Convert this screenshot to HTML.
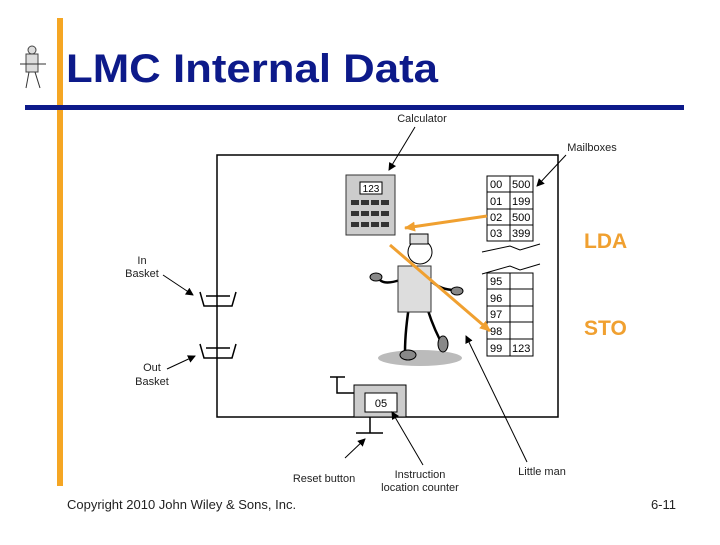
<!DOCTYPE html>
<html><head><style>
body{margin:0;width:720px;height:540px;background:#fff;overflow:hidden;font-family:"Liberation Sans",sans-serif}
</style></head><body>
<svg width="720" height="540" xmlns="http://www.w3.org/2000/svg" font-family="Liberation Sans, sans-serif">
<defs>
<marker id="a" markerWidth="8" markerHeight="8" refX="7" refY="4" orient="auto" markerUnits="userSpaceOnUse"><path d="M0,0 L8,4 L0,8 Z" fill="#000"/></marker>
<marker id="o" markerWidth="12" markerHeight="12" refX="10" refY="6" orient="auto" markerUnits="userSpaceOnUse"><path d="M0,1 L11,6 L0,11 Z" fill="#f0a030"/></marker>
</defs>
<rect x="57" y="18" width="6" height="468" fill="#f5a623"/>
<rect x="25" y="105" width="659" height="5" fill="#0d1a8a"/>
<text x="66" y="82" font-size="40" font-weight="bold" fill="#0d1a8a" textLength="372" lengthAdjust="spacingAndGlyphs">LMC Internal Data</text>
<!-- mini man -->
<g stroke="#444" fill="#ddd"><rect x="26" y="54" width="12" height="18"/><circle cx="32" cy="50" r="4"/></g>
<line x1="20" y1="64" x2="46" y2="64" stroke="#333"/><line x1="29" y1="72" x2="26" y2="88" stroke="#333"/><line x1="35" y1="72" x2="40" y2="88" stroke="#333"/>
<!-- main frame -->
<g stroke="#000" stroke-width="1.5" fill="none">
<path d="M217,155 H558 V417 H217 Z"/>
<path d="M200,292 L204,306 H232 L236,292 M206,296 H230"/>
<path d="M200,344 L204,358 H232 L236,344 M206,348 H230"/>
<path d="M330,377 H345 M337,377 V393 H354"/>
<path d="M370,417 V433 M356,433 H383"/>
</g>
<rect x="354" y="385" width="52" height="32" fill="#ccc" stroke="#000"/>
<rect x="365" y="393" width="32" height="19" fill="#fff" stroke="#000"/>
<text x="381" y="407" font-size="11" text-anchor="middle">05</text>
<!-- calculator -->
<rect x="346" y="175" width="49" height="60" fill="#ccc" stroke="#333"/>
<rect x="360" y="182" width="22" height="12" fill="#fff" stroke="#000"/>
<text x="371" y="192" font-size="10" text-anchor="middle">123</text>
<g fill="#333">
<rect x="351" y="200" width="8" height="5"/><rect x="361" y="200" width="8" height="5"/><rect x="371" y="200" width="8" height="5"/><rect x="381" y="200" width="8" height="5"/>
<rect x="351" y="211" width="8" height="5"/><rect x="361" y="211" width="8" height="5"/><rect x="371" y="211" width="8" height="5"/><rect x="381" y="211" width="8" height="5"/>
<rect x="351" y="222" width="8" height="5"/><rect x="361" y="222" width="8" height="5"/><rect x="371" y="222" width="8" height="5"/><rect x="381" y="222" width="8" height="5"/>
</g>
<!-- mailboxes -->
<g stroke="#000" fill="#fff">
<rect x="487" y="176" width="46" height="65"/>
<rect x="487" y="273" width="46" height="83"/>
<path d="M510,176 V241 M487,192 H533 M487,209 H533 M487,225 H533 M510,273 V356 M487,289 H533 M487,306 H533 M487,322 H533 M487,339 H533" fill="none"/>
<path d="M482,252 L510,246 L520,250 L540,244" fill="none"/>
<path d="M482,274 L510,266 L520,270 L540,264" fill="none"/>
</g>
<g font-size="11">
<text x="490" y="188">00</text><text x="512" y="188">500</text>
<text x="490" y="205">01</text><text x="512" y="205">199</text>
<text x="490" y="221">02</text><text x="512" y="221">500</text>
<text x="490" y="237">03</text><text x="512" y="237">399</text>
<text x="490" y="285">95</text><text x="490" y="302">96</text><text x="490" y="318">97</text><text x="490" y="335">98</text>
<text x="490" y="352">99</text><text x="512" y="352">123</text>
</g>
<!-- little man -->
<ellipse cx="420" cy="358" rx="42" ry="8" fill="#bbb"/>
<g stroke="#000" stroke-width="2.5" fill="none">
<path d="M410,300 Q405,330 405,352 M425,300 Q430,320 440,340 M400,280 Q385,285 380,280 M430,280 Q440,290 455,290"/>
</g>
<rect x="398" y="266" width="33" height="46" fill="#ddd" stroke="#333"/>
<circle cx="420" cy="252" r="12" fill="#fff" stroke="#000"/>
<rect x="410" y="234" width="18" height="10" fill="#ddd" stroke="#000"/>
<ellipse cx="376" cy="277" rx="6" ry="4" fill="#888" stroke="#000"/>
<ellipse cx="457" cy="291" rx="6" ry="4" fill="#888" stroke="#000"/>
<ellipse cx="408" cy="355" rx="8" ry="5" fill="#888" stroke="#000"/>
<ellipse cx="443" cy="344" rx="5" ry="8" fill="#888" stroke="#000"/>
<!-- orange arrows -->
<line x1="487" y1="216" x2="405" y2="228" stroke="#f0a030" stroke-width="3" marker-end="url(#o)"/>
<line x1="390" y1="245" x2="490" y2="331" stroke="#f0a030" stroke-width="3" marker-end="url(#o)"/>
<!-- labels & pointers -->
<g stroke="#000" stroke-width="1" marker-end="url(#a)">
<line x1="415" y1="127" x2="389" y2="170"/>
<line x1="566" y1="155" x2="537" y2="186"/>
<line x1="163" y1="275" x2="193" y2="295"/>
<line x1="167" y1="369" x2="195" y2="356"/>
<line x1="345" y1="458" x2="365" y2="439"/>
<line x1="423" y1="465" x2="392" y2="412"/>
<line x1="527" y1="462" x2="466" y2="336"/>
</g>
<g font-size="11" fill="#222">
<text x="422" y="122" text-anchor="middle">Calculator</text>
<text x="592" y="151" text-anchor="middle">Mailboxes</text>
<text x="142" y="264" text-anchor="middle">In</text><text x="142" y="277" text-anchor="middle">Basket</text>
<text x="152" y="371" text-anchor="middle">Out</text><text x="152" y="385" text-anchor="middle">Basket</text>
<text x="324" y="482" text-anchor="middle">Reset button</text>
<text x="420" y="478" text-anchor="middle">Instruction</text><text x="420" y="491" text-anchor="middle">location counter</text>
<text x="542" y="475" text-anchor="middle">Little man</text>
</g>
<text x="584" y="248" font-size="21" font-weight="bold" fill="#f0a030">LDA</text>
<text x="584" y="335" font-size="21" font-weight="bold" fill="#f0a030">STO</text>
<text x="67" y="509" font-size="13" fill="#222">Copyright 2010 John Wiley &amp; Sons, Inc.</text>
<text x="676" y="509" font-size="13" fill="#222" text-anchor="end">6-11</text>
</svg>
</body></html>
